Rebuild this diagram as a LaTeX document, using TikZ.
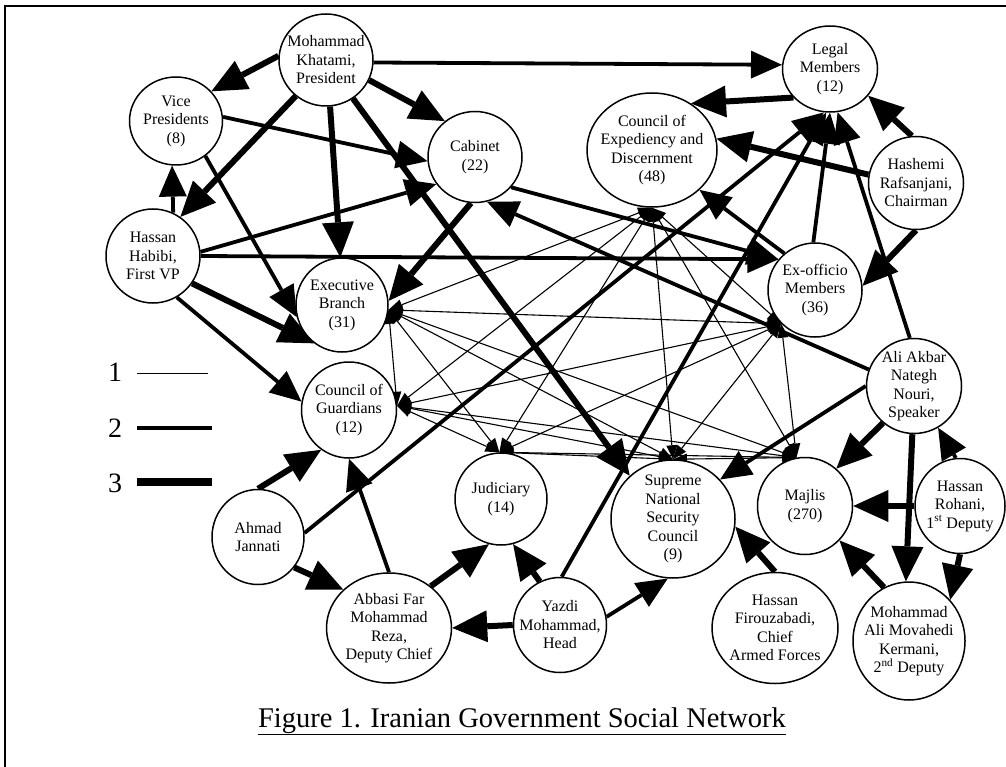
\documentclass[tikz,border=0pt]{standalone}
\usepackage{fontspec}
\setmainfont{Liberation Serif}
\usetikzlibrary{
  arrows.meta,
  shapes.geometric,
  backgrounds
}
\definecolor{netInk}{HTML}{000000}
\tikzset{
  actor/.style={
    draw=netInk, ellipse, line width=1.5pt, fill=white, inner sep=-16pt,
    minimum width=94pt, minimum height=94pt, align=center,
    font=\fontsize{16}{18.5}\selectfont
  },
  tiethin/.style={line width=1.1pt, netInk,
    {Triangle[length=14pt,width=11pt,line width=0pt]}-{Triangle[length=14pt,width=11pt,line width=0pt]}},
  tiemid/.style={line width=3.8pt, netInk, -{Triangle[length=31pt,width=28pt,line width=0pt]}},
  tiethick/.style={line width=6pt, netInk, -{Triangle[length=35pt,width=32pt,line width=0pt]}},
  keynum/.style={font=\fontsize{28}{30}\selectfont, inner sep=0pt},
  keyline/.style={line width=#1, netInk},
  caption/.style={font=\fontsize{28.5}{30}\selectfont, anchor=base, inner sep=0pt}
}

\begin{document}
\begin{tikzpicture}[x=1pt, y=-1pt]
  \useasboundingbox (0,0) rectangle (1006,767);
  \draw[line width=1.5pt] (1006,6) -- (5,6) -- (5,767);

  % actors and bodies
  \node[actor, minimum height=92pt] (khatami) at (326,60) {Mohammad\\Khatami,\\President};
  \node[actor, minimum width=93pt, minimum height=88pt] (vicepres) at (176,121) {Vice\\Presidents\\(8)};
  \node[actor] (habibi) at (153,256) {Hassan\\Habibi,\\First VP};
  \node[actor, minimum height=91pt] (cabinet) at (475,157) {Cabinet\\(22)};
  \node[actor, minimum width=92pt] (execbr) at (342,305) {Executive\\Branch\\(31)};
  \node[actor, minimum width=95pt, minimum height=96pt] (guardians) at (349,410) {Council of\\Guardians\\(12)};
  \node[actor, minimum width=92pt, minimum height=92pt] (judiciary) at (501,499) {Judiciary\\(14)};
  \node[actor, minimum width=124pt, minimum height=118pt] (snsc) at (673,519) {Supreme\\National\\Security\\Council\\(9)};
  \node[actor, minimum width=95pt, minimum height=97pt] (majlis) at (805,506) {Majlis\\(270)};
  \node[actor, minimum width=90pt, minimum height=95pt] (rohani) at (960,506) {Hassan\\Rohani,\\1\textsuperscript{st} Deputy};
  \node[actor, minimum width=95pt, minimum height=95pt] (nouri) at (914,386) {Ali Akbar\\Nategh\\Nouri,\\Speaker};
  \node[actor, minimum width=95pt, minimum height=86pt] (legal) at (830,69) {Legal\\Members\\(12)};
  \node[actor, minimum width=130pt, minimum height=114pt] (expediency) at (652,150) {Council of\\Expediency and\\Discernment\\(48)};
  \node[actor, minimum width=95pt, minimum height=93pt] (hashemi) at (916,183) {Hashemi\\Rafsanjani,\\Chairman};
  \node[actor] (exofficio) at (815,290) {Ex-officio\\Members\\(36)};
  \node[actor, minimum width=92pt, minimum height=95pt] (jannati) at (258,537) {Ahmad\\Jannati};
  \node[actor, minimum width=125pt, minimum height=110pt] (abbasi) at (389,628) {Abbasi Far\\Mohammad\\Reza,\\Deputy Chief};
  \node[actor, minimum width=93pt, minimum height=95pt] (yazdi) at (560,625) {Yazdi\\Mohammad,\\Head};
  \node[actor, minimum width=126pt, minimum height=111pt] (firouz) at (775,628) {Hassan\\Firouzabadi,\\Chief\\Armed Forces};
  \node[actor, minimum width=112pt, minimum height=118pt] (kermani) at (909,641) {Mohammad\\Ali Movahedi\\Kermani,\\2\textsuperscript{nd} Deputy};

  % key
  \node[keynum] (num1) at (115,372) {1};
  \node[keynum] (num2) at (115,428) {2};
  \node[keynum] (num3) at (115,483) {3};
  \coordinate (key1a) at (137,373); \coordinate (key1b) at (208,373);
  \coordinate (key2a) at (137,428); \coordinate (key2b) at (212,428);
  \coordinate (key3a) at (137,482); \coordinate (key3b) at (212,482);
  \draw[keyline=1pt] (key1a) -- (key1b);
  \draw[keyline=4.5pt] (key2a) -- (key2b);
  \draw[keyline=7.5pt] (key3a) -- (key3b);

  \node[caption] (title) at (522,727) {\underline{Figure 1. Iranian Government Social Network}};

  \begin{scope}[on background layer]
    % weak ties between the bodies
    \foreach \from/\to in {
      execbr.-6/guardians.5, execbr.-6/judiciary.92, execbr.-6/snsc.90,
      execbr.-6/majlis.100, execbr.-6/exofficio.-135, execbr.-6/expediency.-90,
      guardians.5/judiciary.92, guardians.5/snsc.90, guardians.5/majlis.100,
      guardians.5/exofficio.-135, guardians.5/expediency.-90,
      judiciary.92/snsc.90, judiciary.92/majlis.100, judiciary.92/exofficio.-135,
      judiciary.92/expediency.-90,
      snsc.90/majlis.100, snsc.90/exofficio.-135, snsc.90/expediency.-90,
      majlis.100/exofficio.-135, majlis.100/expediency.-90,
      exofficio.-135/expediency.-90}
      \draw[tiethin] (\from) -- (\to);

    % ties of strength 2
    \draw[tiemid] (khatami.-3) -- (legal.175);
    \draw[tiemid] (vicepres.5) -- (cabinet.185);
    \draw[tiemid] (vicepres.-50) -- (execbr.195);
    \draw[tiemid] (habibi.65) -- (vicepres.-95);
    \draw[tiemid] (habibi.5) -- (cabinet.215);
    \draw[tiemid] (habibi.0) -- (exofficio.140);
    \draw[tiemid] (habibi.-60) -- (guardians.170);
    \draw[tiemid] (cabinet.-40) -- (exofficio.140);
    \draw[tiemid] (exofficio.130) -- (expediency.-40);
    \draw[tiemid] (exofficio.92) -- (legal.-90);
    \draw[tiemid] (jannati.5) -- (legal.-98);
    \draw[tiemid] (yazdi.88) -- (legal.-95);
    \draw[tiemid] (nouri.95) -- (legal.-80);
    \draw[tiemid] (nouri.160) -- (cabinet.-75);
    \draw[tiemid] (nouri.180) -- (snsc.40);
    \draw[tiemid] (rohani.95) -- (nouri.-60);
    \draw[tiemid] (yazdi.10) -- (snsc.-95);
    \draw[tiemid] (abbasi.90) -- (guardians.-90);

    % ties of strength 3
    \draw[tiethick] (khatami.175) -- (vicepres.40);
    \draw[tiethick] (khatami.-25) -- (cabinet.130);
    \draw[tiethick] (khatami.-130) -- (habibi.55);
    \draw[tiethick] (khatami.-85) -- (execbr.92);
    \draw[tiethick] (khatami.-55) -- (snsc.135);
    \draw[tiethick] (habibi.-35) -- (execbr.-126);
    \draw[tiethick] (cabinet.-95) -- (execbr.5);
    \draw[tiethick] (legal.218) -- (expediency.50);
    \draw[tiethick] (hashemi.95) -- (legal.-35);
    \draw[tiethick] (hashemi.170) -- (expediency.10);
    \draw[tiethick] (hashemi.-90) -- (exofficio.5);
    \draw[tiethick] (nouri.-130) -- (majlis.50);
    \draw[tiethick] (nouri.-92) -- (kermani.93);
    \draw[tiethick] (rohani.180) -- (majlis.0);
    \draw[tiethick] (rohani.-90) -- (kermani.45);
    \draw[tiethick] (kermani.115) -- (majlis.-45);
    \draw[tiethick] (firouz.90) -- (snsc.-7);
    \draw[tiethick] (yazdi.180) -- (abbasi.0);
    \draw[tiethick] (yazdi.115) -- (judiciary.-75);
    \draw[tiethick] (abbasi.45) -- (judiciary.-105);
    \draw[tiethick] (jannati.90) -- (guardians.-125);
    \draw[tiethick] (jannati.-40) -- (abbasi.140);
  \end{scope}
\end{tikzpicture}
\end{document}
